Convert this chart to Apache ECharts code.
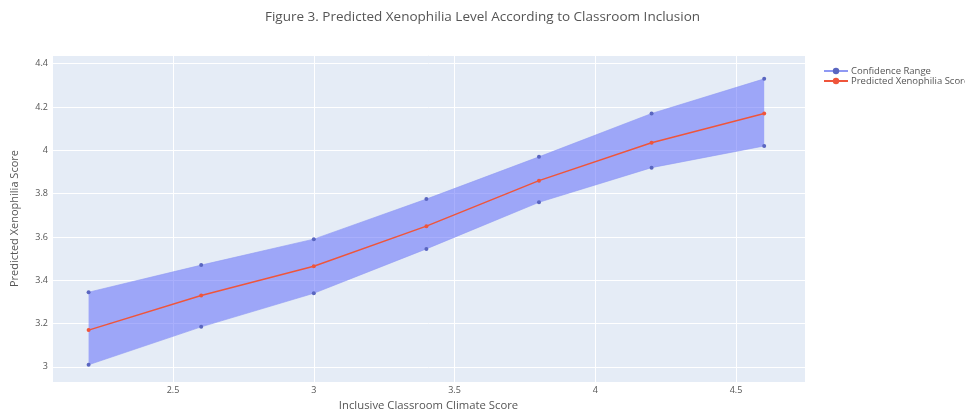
<!DOCTYPE html>
<html>
<head>
<meta charset="utf-8">
<script src="https://cdn.jsdelivr.net/npm/echarts@6/dist/echarts.min.js"></script>
<style>
html,body{margin:0;padding:0;background:#fff;}
#chart{width:965px;height:416px;}
</style>
</head>
<body>
<div id="chart"></div>
<script>
// Data
const climateScores = [2.2, 2.6, 3.0, 3.4, 3.8, 4.2, 4.6];
const predictedScore = [3.17, 3.33, 3.465, 3.65, 3.86, 4.035, 4.17];
const upperBound = [3.345, 3.47, 3.59, 3.775, 3.97, 4.17, 4.33];
const lowerBound = [3.01, 3.185, 3.34, 3.545, 3.76, 3.92, 4.02];
const xTickLabels = [2.5, 3, 3.5, 4, 4.5];
const yTickLabels = [3, 3.2, 3.4, 3.6, 3.8, 4, 4.2, 4.4];

const titleText = 'Figure 3. Predicted Xenophilia Level According to Classroom Inclusion';
const xTitle = 'Inclusive Classroom Climate Score';
const yTitle = 'Predicted Xenophilia Score';
const bandName = 'Confidence Range';
const lineName = 'Predicted Xenophilia Score';

const FONT = '"Open Sans", "Noto Sans", sans-serif';
const TXT = '#555';
const BAND_FILL = 'rgba(99,110,250,0.55)';
const BAND_EDGE = '#8f99f3';
const BAND_MARK = '#5a66c0';

function pairs(xs, ys) { return xs.map((x, i) => [x, ys[i]]); }
function isTick(list, v) { return list.some(t => Math.abs(t - v) < 1e-6); }

const bandData = climateScores.map((x, i) => [x, lowerBound[i], upperBound[i]]);

function renderBand(params, api) {
  if (params.dataIndex !== 0) return null;
  const pts = [];
  for (let i = 0; i < climateScores.length; i++) {
    pts.push(api.coord([climateScores[i], upperBound[i]]));
  }
  for (let i = climateScores.length - 1; i >= 0; i--) {
    pts.push(api.coord([climateScores[i], lowerBound[i]]));
  }
  return {
    type: 'polygon',
    shape: {points: pts},
    style: {fill: BAND_FILL, stroke: null}
  };
}

const chart = echarts.init(document.getElementById('chart'), null, {renderer: 'canvas'});
chart.setOption({
  animation: false,
  backgroundColor: '#ffffff',
  textStyle: {fontFamily: FONT},
  title: {
    text: titleText,
    left: 'center',
    top: 10,
    padding: 0,
    textStyle: {fontFamily: FONT, fontSize: 13.5, fontWeight: 'normal', color: TXT}
  },
  legend: {
    orient: 'vertical',
    left: 823,
    top: 66,
    padding: 0,
    itemWidth: 24,
    itemHeight: 8,
    itemGap: 0,
    textStyle: {fontFamily: FONT, fontSize: 9.5, color: TXT, padding: [0, 0, 0, -2]},
    data: [bandName, lineName]
  },
  grid: {
    left: 52, right: 160, top: 55, bottom: 31,
    show: true, backgroundColor: '#E5ECF6', borderWidth: 0
  },
  xAxis: {
    type: 'value',
    min: 2.07, max: 4.745,
    splitNumber: 5,
    name: xTitle,
    nameLocation: 'middle',
    nameGap: 16,
    nameTextStyle: {fontFamily: FONT, fontSize: 11.3, color: TXT},
    axisLine: {show: false},
    axisTick: {show: false},
    splitLine: {show: true, lineStyle: {color: '#ffffff', width: 1}},
    axisLabel: {
      fontFamily: FONT, fontSize: 9, color: TXT, margin: 4,
      showMinLabel: false, showMaxLabel: false,
      formatter: v => isTick(xTickLabels, v) ? String(v) : ''
    }
  },
  yAxis: {
    type: 'value',
    min: 2.93, max: 4.44,
    splitNumber: 7,
    name: yTitle,
    nameLocation: 'middle',
    nameGap: 32,
    nameTextStyle: {fontFamily: FONT, fontSize: 11, color: TXT},
    axisLine: {show: false},
    axisTick: {show: false},
    splitLine: {show: true, lineStyle: {color: '#ffffff', width: 1}},
    axisLabel: {
      fontFamily: FONT, fontSize: 9, color: TXT, margin: 4,
      showMinLabel: false, showMaxLabel: false,
      formatter: v => isTick(yTickLabels, v) ? String(v) : ''
    }
  },
  series: [
    {
      name: bandName,
      type: 'line',
      data: pairs(climateScores, upperBound),
      lineStyle: {width: 0.6, color: BAND_EDGE},
      symbol: 'circle',
      symbolSize: 4,
      itemStyle: {color: BAND_MARK},
      z: 2
    },
    {
      name: bandName,
      type: 'line',
      data: pairs(climateScores, lowerBound),
      lineStyle: {width: 0.6, color: BAND_EDGE},
      symbol: 'circle',
      symbolSize: 4,
      itemStyle: {color: BAND_MARK},
      z: 2
    },
    {
      name: bandName,
      type: 'custom',
      renderItem: renderBand,
      data: bandData,
      encode: {x: 0, y: [1, 2]},
      itemStyle: {color: BAND_FILL},
      silent: true,
      z: 1
    },
    {
      name: lineName,
      type: 'line',
      data: pairs(climateScores, predictedScore),
      lineStyle: {width: 1.5, color: '#EF553B'},
      symbol: 'circle',
      symbolSize: 4,
      itemStyle: {color: '#EF553B'},
      z: 3
    }
  ]
});
</script>
</body>
</html>
